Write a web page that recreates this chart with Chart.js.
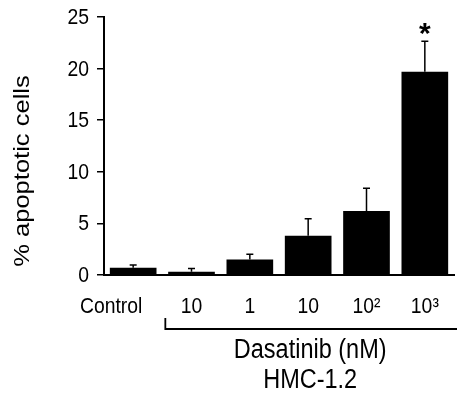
<!DOCTYPE html>
<html><head><meta charset="utf-8">
<script src="https://cdn.jsdelivr.net/npm/chart.js@4"></script>
<style>html,body{margin:0;padding:0;background:#fff;}#wrap{width:457px;height:395px;}</style>
</head><body><div id="wrap"><canvas id="c" width="457" height="395"></canvas></div>
<script>
const categories = ["Control", "10", "1", "10", "10²", "10³"];
const values = [0.7, 0.32, 1.5, 3.8, 6.2, 19.7];
const errors = [0.26, 0.32, 0.5, 1.65, 2.2, 2.95];
const significant = [false, false, false, false, false, true];
const yTicks = [0, 5, 10, 15, 20, 25];
const yTitle = "% apoptotic cells";
const groupTitle = ["Dasatinib (nM)", "HMC-1.2"];

const FAMILY = "'Liberation Sans', Arial, sans-serif";

function txt(ctx, s, x, y, size, sx, align, base, bold) {
  ctx.save();
  ctx.translate(x, y);
  ctx.scale(sx, 1);
  ctx.font = (bold ? "bold " : "") + size + "px " + FAMILY;
  ctx.textAlign = align; ctx.textBaseline = base;
  ctx.fillText(s, 0, 0);
  ctx.restore();
}

const overlay = {
  id: 'overlay',
  afterDatasetsDraw(chart) {
    const ctx = chart.ctx, x = chart.scales.x, y = chart.scales.y;
    ctx.save();
    ctx.strokeStyle = '#000'; ctx.fillStyle = '#000';
    ctx.lineWidth = 1.5;
    values.forEach((v, i) => {
      const cx = x.getPixelForValue(i);
      const y0 = y.getPixelForValue(v), y1 = y.getPixelForValue(v + errors[i]);
      ctx.beginPath(); ctx.moveTo(cx, y0); ctx.lineTo(cx, y1);
      ctx.moveTo(cx - 3.5, y1); ctx.lineTo(cx + 3.5, y1); ctx.stroke();
      if (significant[i]) txt(ctx, '*', cx, y1 - 7, 30, 1, 'center', 'middle', true);
    });
    // y tick labels
    yTicks.forEach(t => txt(ctx, String(t), y.right - 15, y.getPixelForValue(t) + 1, 22, 0.88, 'right', 'middle'));
    // category labels
    const base0 = y.getPixelForValue(0);
    categories.forEach((c, i) => {
      let cx = x.getPixelForValue(i);
      if (i === 0) cx -= 22;
      txt(ctx, c, cx, base0 + 38, 22, 0.88, 'center', 'alphabetic');
    });
    // bracket
    const bx = (x.getPixelForValue(0) + x.getPixelForValue(1)) / 2 + 3;
    const by = base0 + 54;
    ctx.lineWidth = 1.8;
    ctx.beginPath(); ctx.moveTo(bx, by - 11); ctx.lineTo(bx, by); ctx.lineTo(chart.width, by); ctx.stroke();
    const gx = (x.getPixelForValue(2) + x.getPixelForValue(4)) / 2 + 2;
    txt(ctx, groupTitle[0], gx, by + 29, 27, 0.87, 'center', 'alphabetic');
    txt(ctx, groupTitle[1], gx, by + 59, 27, 0.87, 'center', 'alphabetic');
    // y title
    ctx.save();
    ctx.translate(23, 171);
    ctx.rotate(-Math.PI / 2);
    txt(ctx, yTitle, 0, 0, 22, 1.16, 'center', 'middle');
    ctx.restore();
    ctx.restore();
  }
};

new Chart(document.getElementById('c'), {
  type: 'bar',
  data: { labels: categories, datasets: [{ data: values, backgroundColor: '#000', borderWidth: 0, barPercentage: 0.8, categoryPercentage: 1.0 }] },
  options: {
    responsive: false, animation: false,
    layout: { padding: { top: 17, right: 3, left: 0, bottom: 0 } },
    plugins: { legend: { display: false }, tooltip: { enabled: false } },
    scales: {
      x: {
        ticks: { display: false },
        grid: { display: false },
        border: { color: '#000', width: 2 },
        afterFit(s) { s.height = 120; }
      },
      y: {
        min: 0, max: 25,
        afterBuildTicks(s) { s.ticks = yTicks.map(v => ({ value: v })); },
        ticks: { display: false },
        grid: { drawOnChartArea: false, color: '#000', tickLength: 7, lineWidth: 1.5 },
        border: { color: '#000', width: 2 },
        afterFit(s) { s.width = 104; }
      }
    }
  },
  plugins: [overlay]
});
</script></body></html>
